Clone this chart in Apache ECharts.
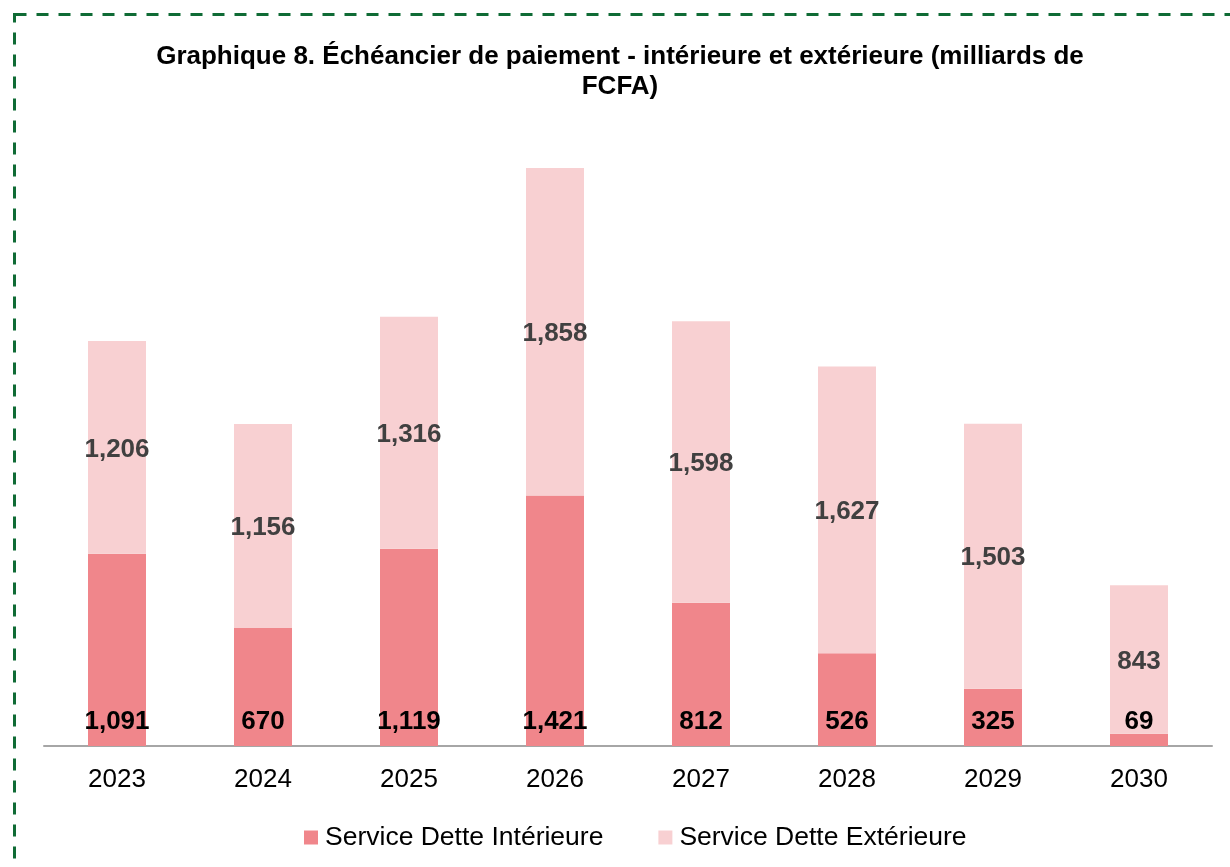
<!DOCTYPE html>
<html><head><meta charset="utf-8">
<script src="https://cdn.jsdelivr.net/npm/echarts@6/dist/echarts.min.js"></script>
<style>html,body{margin:0;padding:0;background:#fff}#c{width:1230px;height:867px}</style>
</head><body><div id="c"></div>
<script>
const years = ['2023','2024','2025','2026','2027','2028','2029','2030'];
const interieure = [1091, 670, 1119, 1421, 812, 526, 325, 69];
const exterieure = [1206, 1156, 1316, 1858, 1598, 1627, 1503, 843];
const seriesNames = ['Service Dette Intérieure', 'Service Dette Extérieure'];
const titleText = 'Graphique 8. Échéancier de paiement - intérieure et extérieure (milliards de\nFCFA)';

const fmt = v => Number(v).toLocaleString('en-US');
const FONT = '"Liberation Sans", Arial, sans-serif';
const chart = echarts.init(document.getElementById('c'), null, {renderer: 'canvas'});
chart.setOption({
  animation: false,
  backgroundColor: '#fff',
  textStyle: {fontFamily: FONT},
  graphic: [{
    type: 'rect', silent: true,
    shape: {x: 14.5, y: 14.5, width: 1260, height: 900},
    style: {fill: 'none', stroke: '#0f6b35', lineWidth: 3, lineDash: [12, 10]}
  }],
  title: {
    text: titleText, left: 615, top: 37, textAlign: 'center',
    textStyle: {fontFamily: FONT, fontWeight: 'bold', fontSize: 26, color: '#000', lineHeight: 30}
  },
  legend: {
    top: 819, left: 299, itemWidth: 14, itemHeight: 14, itemGap: 55,
    icon: 'rect',
    textStyle: {fontFamily: FONT, fontSize: 26.5, lineHeight: 26, color: '#000', padding: [0,0,0,2]},
    data: seriesNames
  },
  grid: {left: 44, right: 18, top: 129, bottom: 121, containLabel: false},
  xAxis: {
    type: 'category', data: years,
    axisLine: {lineStyle: {color: '#a6a6a6', width: 2}},
    axisTick: {show: false},
    axisLabel: {fontFamily: FONT, fontSize: 26, color: '#000', margin: 21}
  },
  yAxis: {type: 'value', min: 0, max: 3500, show: false, splitLine: {show: false}},
  series: [
    {
      name: seriesNames[0], type: 'bar', stack: 'a', data: interieure, barWidth: 58,
      itemStyle: {color: '#f0868b'},
      label: {show: true, position: 'insideBottom', distance: 11, formatter: p => fmt(p.value),
        fontFamily: FONT, fontSize: 26, fontWeight: 'bold', color: '#000'}
    },
    {
      name: seriesNames[1], type: 'bar', stack: 'a', data: exterieure, barWidth: 58,
      itemStyle: {color: '#f8d0d2'},
      label: {show: true, position: 'inside', offset: [0, 2], formatter: p => fmt(p.value),
        fontFamily: FONT, fontSize: 26, fontWeight: 'bold', color: '#404040'}
    }
  ]
});
</script></body></html>
